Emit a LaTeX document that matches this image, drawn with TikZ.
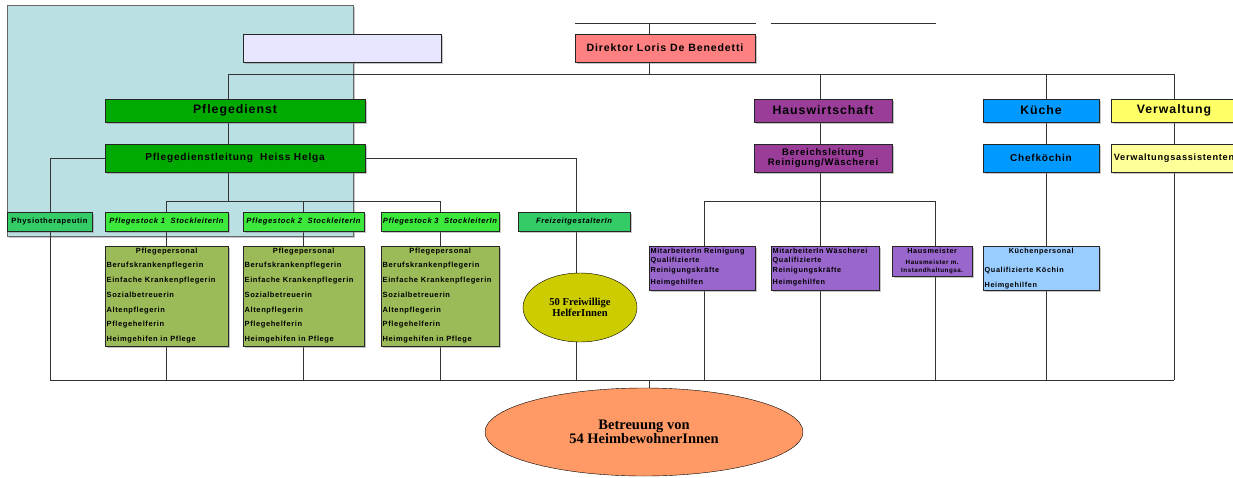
\documentclass[tikz,border=0pt]{standalone}
\usepackage{fontspec}
\setmainfont{Liberation Serif}
\newfontfamily\orgsans[LetterSpace=8]{Liberation Sans}
\usepackage{xcolor}
\usetikzlibrary{shapes.geometric, shadows}

\definecolor{panelblue}{HTML}{BBE0E3}
\definecolor{lavender}{HTML}{E6E6FF}
\definecolor{dirred}{HTML}{FF8080}
\definecolor{pflgreen}{HTML}{00AA00}
\definecolor{stockgreen}{HTML}{3CE83C}
\definecolor{midgreen}{HTML}{33CC66}
\definecolor{olive}{HTML}{9BBB59}
\definecolor{hwpurple}{HTML}{993D99}
\definecolor{staffpurple}{HTML}{9966CC}
\definecolor{kublue}{HTML}{0099FF}
\definecolor{kulight}{HTML}{99CCFF}
\definecolor{vwyellow}{HTML}{FFFF66}
\definecolor{vwlight}{HTML}{FFFF99}
\definecolor{frwyellow}{HTML}{CCCC00}
\definecolor{betrorange}{HTML}{FF9966}
\definecolor{linegray}{HTML}{333333}

\pgfdeclarelayer{panel}
\pgfdeclarelayer{background}
\pgfsetlayers{panel,background,main}

\begin{document}
\begin{tikzpicture}[x=1pt, y=-1pt, line width=0.8pt,
        link/.style={draw=linegray},
        box/.style={rectangle, draw=black!85, inner sep=0pt,
            drop shadow={shadow xshift=1.5pt, shadow yshift=-1.5pt, opacity=0.45},
            font=\orgsans\bfseries},
        head/.style={box, minimum height=23pt, font=\orgsans\bfseries\fontsize{12.3}{14}\selectfont},
        lead/.style={box, minimum height=28pt},
        unit/.style={box, minimum height=19pt, font=\orgsans\bfseries\fontsize{7.6}{9}\selectfont},
        staff/.style={box, anchor=north west, inner xsep=1.5pt, inner ysep=0pt},
        blob/.style={ellipse, draw=black, inner sep=0pt, align=center, font=\bfseries}]
    \useasboundingbox (0,0) rectangle (1233,477);

    % panel behind the nursing part
    \begin{pgfonlayer}{panel}
        \path[fill=panelblue, draw=black!60, drop shadow={shadow xshift=1.5pt, shadow yshift=-1.5pt, opacity=0.45}]
            (7,5) rectangle (353,236);
    \end{pgfonlayer}

    % top level
    \node[box, fill=lavender, minimum width=198pt, minimum height=28pt] (blank) at (342,48) {};
    \node[lead, fill=dirred, minimum width=180pt, font=\orgsans\bfseries\fontsize{10.6}{12}\selectfont] (dir) at (665,48) {Direktor Loris De Benedetti};

    % departments
    \node[head, fill=pflgreen, minimum width=260pt] (pd) at (235,110.5) {Pflegedienst};
    \node[lead, fill=pflgreen, minimum width=260pt, font=\orgsans\bfseries\fontsize{10.1}{12}\selectfont] (pdl) at (235,158) {Pflegedienstleitung~ Heiss Helga};

    \node[head, fill=hwpurple, minimum width=138pt] (hw) at (823,110.5) {Hauswirtschaft};
    \node[lead, fill=hwpurple, minimum width=138pt, align=center, font=\orgsans\bfseries\fontsize{9.5}{10}\selectfont] (bl) at (823,158) {Bereichsleitung\\Reinigung/Wäscherei};

    \node[head, fill=kublue, minimum width=116pt] (ku) at (1041,110.5) {Küche};
    \node[lead, fill=kublue, minimum width=116pt, font=\orgsans\bfseries\fontsize{10}{12}\selectfont] (chef) at (1041,158) {Chefköchin};

    \node[head, fill=vwyellow, minimum width=126pt] (vw) at (1174,110.5) {Verwaltung};
    \node[lead, fill=vwlight, minimum width=126pt, font=\orgsans\bfseries\fontsize{9.2}{11}\selectfont] (va) at (1174,158) {Verwaltungsassistenten};

    % nursing units
    \node[unit, fill=midgreen, minimum width=85pt] (physio) at (49.5,221.5) {Physiotherapeutin};
    \foreach \i/\cx/\w in {1/166.5/123, 2/303.5/121, 3/440/118} {
        \node[unit, fill=stockgreen, minimum width=\w pt, font=\orgsans\bfseries\itshape\fontsize{7.6}{9}\selectfont] (ps\i) at (\cx,221.5) {Pflegestock \i~ StockleiterIn};
        \node[staff, fill=olive] (pp\i) at (\cx-\w/2,246) {\parbox[t][100pt][t]{\dimexpr\w pt-3pt\relax}{%
            \fontsize{7.5}{14.7}\selectfont\rule{0pt}{7pt}\makebox[\linewidth]{Pflegepersonal}\\
            Berufskrankenpflegerin\\
            Einfache Krankenpflegerin\\
            Sozialbetreuerin\\
            Altenpflegerin\\
            Pflegehelferin\\
            Heimgehifen in Pflege}};
    }
    \node[unit, fill=midgreen, minimum width=112pt, font=\orgsans\bfseries\itshape\fontsize{7.6}{9}\selectfont] (frz) at (574,221.5) {FreizeitgestalterIn};
    \node[blob, fill=frwyellow, minimum width=114pt, minimum height=69pt, font=\bfseries\fontsize{10.6}{9.8}\selectfont] (frw) at (580,307.5) {50 Freiwillige\\HelferInnen};

    % housekeeping and kitchen staff
    \node[staff, fill=staffpurple] (rein) at (649,246) {\parbox[t][44pt][t]{103pt}{%
        \fontsize{7.3}{9.5}\selectfont\rule{0pt}{7pt}MitarbeiterIn Reinigung\\
        Qualifizierte\\
        Reinigungskräfte\\[2.5pt]
        Heimgehilfen}};
    \node[staff, fill=staffpurple] (wae) at (771,246) {\parbox[t][44pt][t]{105pt}{%
        \fontsize{7.3}{9.5}\selectfont\rule{0pt}{7pt}MitarbeiterIn Wäscherei\\
        Qualifizierte\\
        Reinigungskräfte\\[2.5pt]
        Heimgehilfen}};
    \node[staff, fill=staffpurple] (haus) at (892,246) {\parbox[t][30pt][t]{77pt}{%
        \centering\fontsize{7.3}{8}\selectfont\rule{0pt}{7pt}Hausmeister\\[3pt]
        {\fontsize{6.3}{8}\selectfont Hausmeister m.\\
        Instandhaltungsa.}}};
    \node[staff, fill=kulight] (kp) at (983,246) {\parbox[t][44pt][t]{113pt}{%
        \fontsize{7.3}{15}\selectfont\rule{0pt}{7pt}\makebox[\linewidth]{Küchenpersonal}\\[4pt]
        Qualifizierte Köchin\\
        Heimgehilfen}};

    \node[blob, fill=betrorange, minimum width=318pt, minimum height=88pt, font=\bfseries\fontsize{14.5}{12.8}\selectfont] (betr) at (644,432) {Betreuung von\\54 HeimbewohnerInnen};

    % junctions
    \coordinate (dirtop) at (649,23);
    \coordinate (topAl) at (575,23);
    \coordinate (topAr) at (756,23);
    \coordinate (topBl) at (771,23);
    \coordinate (topBr) at (936,23);
    \coordinate (busL) at (228,74);
    \coordinate (dirbus) at (649,74);
    \coordinate (hwx) at (820,74);
    \coordinate (kux) at (1046,74);
    \coordinate (busR) at (1174,74);
    \coordinate (pdlL) at (50,158);
    \coordinate (pdlR) at (576,158);
    \coordinate (stockbus) at (228,201);
    \coordinate (reinx) at (704,201);
    \coordinate (hwbus) at (820,201);
    \coordinate (hausx) at (935,201);
    \coordinate (baseL) at (50,380);
    \coordinate (basemid) at (649,380);
    \coordinate (baseR) at (1174,380);

    \begin{pgfonlayer}{background}
        \draw[link] (topAl) -- (topAr);
        \draw[link] (topBl) -- (topBr);
        \draw[link] (dirtop) -- (dir.north -| dirtop);
        \draw[link] (dir.south -| dirbus) -- (dirbus);
        \draw[link] (busL) -- (busR);
        % nursing
        \draw[link] (busL) -- (pd.north -| busL);
        \draw[link] (pd.south -| busL) -- (pdl.north -| busL);
        \draw[link] (pdl.west) -- (pdlL) -- (baseL);
        \draw[link] (pdl.east) -- (pdlR) -- (pdlR |- baseL);
        \draw[link] (pdl.south -| busL) -- (stockbus);
        \draw[link] (ps1.north |- stockbus) -- (ps3.north |- stockbus);
        \foreach \i in {1,2,3}
            \draw[link] (ps\i.north |- stockbus) -- (ps\i.north |- baseL);
        % housekeeping
        \draw[link] (hwx) -- (hw.north -| hwx);
        \draw[link] (hw.south -| hwx) -- (bl.north -| hwx);
        \draw[link] (bl.south -| hwx) -- (hwbus);
        \draw[link] (reinx) -- (hausx);
        \draw[link] (reinx) -- (reinx |- baseL);
        \draw[link] (hwbus) -- (hwbus |- baseL);
        \draw[link] (hausx) -- (hausx |- baseL);
        % kitchen and administration
        \draw[link] (kux) -- (ku.north -| kux);
        \draw[link] (ku.south -| kux) -- (chef.north -| kux);
        \draw[link] (chef.south -| kux) -- (kux |- baseL);
        \draw[link] (busR) -- (vw.north -| busR);
        \draw[link] (vw.south -| busR) -- (va.north -| busR);
        \draw[link] (va.south -| busR) -- (baseR);
        % residents
        \draw[link] (baseL) -- (baseR);
        \draw[link] (basemid) -- (betr.north -| basemid);
    \end{pgfonlayer}
\end{tikzpicture}
\end{document}
